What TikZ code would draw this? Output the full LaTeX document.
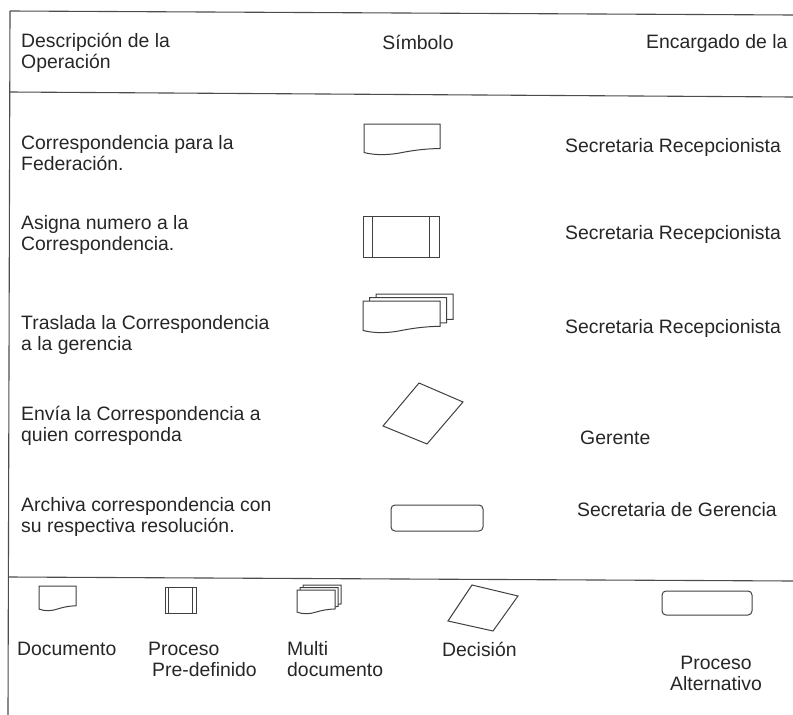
\documentclass[tikz,border=0pt]{standalone}
\usepackage{fontspec}
\setmainfont{Liberation Sans}

% symbol shapes, x y w h (y goes down)
\newcommand{\docsym}[4]{%
\begin{scope}[shift={(#1,#2)}]
\draw[sym,fill=white] (0,0) -- (#3,0) -- (#3,0.79*#4)
  .. controls (0.8*#3,0.8*#4) and (0.65*#3,0.85*#4) .. (0.5*#3,0.92*#4)
  .. controls (0.35*#3,1.0*#4) and (0.15*#3,1.02*#4) .. (0,0.92*#4) -- cycle;
\end{scope}}
\newcommand{\predsym}[4]{%
\begin{scope}[shift={(#1,#2)}]
\draw[sym] (0,0) rectangle (#3,#4);
\draw[sym] (0.12*#3,0) -- (0.12*#3,#4) (0.88*#3,0) -- (0.88*#3,#4);
\end{scope}}
\newcommand{\multisym}[6]{%
\docsym{#1+2*#5}{#2-2*#6}{#3}{#4}
\docsym{#1+#5}{#2-#6}{#3}{#4}
\docsym{#1}{#2}{#3}{#4}}

\begin{document}
\begin{tikzpicture}[x=1pt,y=-1pt,
  sym/.style={draw=black!75,line width=1pt},
  rule/.style={draw=black!70,line width=1.1pt},
  txt/.style={font=\fontsize{19.4}{21}\selectfont,text=black!85,inner sep=0pt,align=left,anchor=west}]
\useasboundingbox (0,0) rectangle (793,715);

% frame
\draw[rule] (10,11)--(793,15);
\draw[rule] (10,11)--(8,715);
\draw[rule] (10,92)--(793,97);
\draw[rule] (9,577)--(793,581);

% header
\node[txt] (desc) at (21,53) {Descripción de la\\Operación};
\node[txt,anchor=center] (simb) at (418,42) {Símbolo};
\node[txt] (enc) at (646,43) {Encargado de la};

% operations
\node[txt] (op1) at (21,153) {Correspondencia para la\\Federación.};
\node[txt] (op2) at (21,235) {Asigna numero a la\\Correspondencia.};
\node[txt] (op3) at (21,335) {Traslada la Correspondencia\\a la gerencia};
\node[txt] (op4) at (21,426) {Envía la Correspondencia a\\quien corresponda};
\node[txt] (op5) at (21,517) {Archiva correspondencia con\\su respectiva resolución.};

\docsym{364}{124}{76}{31}
\predsym{363}{216}{76}{41}
\multisym{363}{301}{77}{32}{6.5}{3.5}
\draw[sym] (419,383) -- (463,402) -- (427,444) -- (383,426) -- cycle;
\draw[sym,rounded corners=4pt] (391,505) rectangle (483,531);

\foreach \y/\n in {147/a,234/b,328/c}
  \node[txt] (resp\n) at (565,\y) {Secretaria Recepcionista};
\node[txt] (ger) at (580,438) {Gerente};
\node[txt] (sger) at (577,510) {Secretaria de Gerencia};

% legend
\docsym{39}{586}{37}{25}
\predsym{165}{587}{31}{26}
\multisym{297}{590}{38}{24}{3}{2.5}
\draw[sym] (472,585) -- (518,596) -- (493,631) -- (448,621) -- cycle;
\draw[sym,rounded corners=4pt] (662,591) rectangle (752,615);

\node[txt] (ldoc) at (17,649) {Documento};
\node[txt] (lpred) at (148,659) {Proceso\\\hspace*{4pt}Pre-definido};
\node[txt] (lmulti) at (287,659) {Multi\\documento};
\node[txt] (ldec) at (442,649) {Decisión};
\node[txt,align=center,anchor=center] (lalt) at (716,673) {Proceso\\Alternativo};
\end{tikzpicture}
\end{document}
